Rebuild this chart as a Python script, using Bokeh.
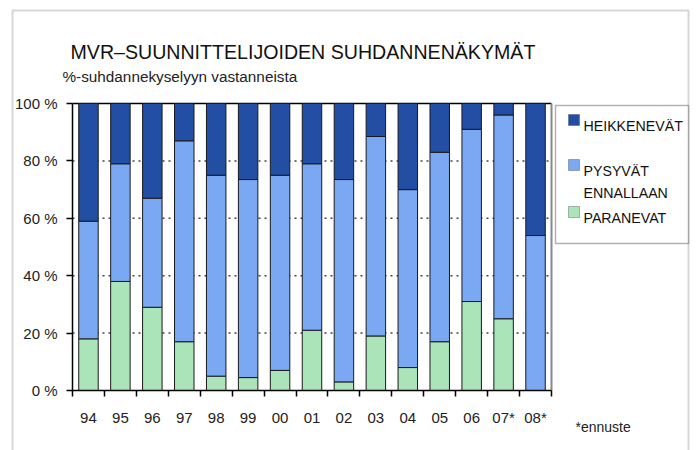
from bokeh.plotting import figure
from bokeh.models import (Range1d, FixedTicker, Label, BoxAnnotation,
                          ColumnDataSource)
from bokeh.embed import file_html
from bokeh.resources import INLINE

years = ["94", "95", "96", "97", "98", "99", "00", "01", "02", "03",
         "04", "05", "06", "07*", "08*"]
paranevat = [18, 38, 29, 17, 5, 4.5, 7, 21, 3, 19, 8, 17, 31, 25, 0]
pysyvat = [41, 41, 38, 70, 70, 69, 68, 58, 70.5, 69.5, 62, 66, 60, 71, 54]
heikkenevat = [41, 21, 33, 13, 25, 26.5, 25, 21, 26.5, 11.5, 30, 17, 9, 4, 46]
series = ["paranevat", "pysyvat", "heikkenevat"]
labels = ["PARANEVAT", "PYSYVÄT\nENNALLAAN", "HEIKKENEVÄT"]
colors = ["#AAE4B8", "#7AA8F2", "#224EA3"]
y_ticks = [0, 20, 40, 60, 80, 100]
grid_ticks = [20, 40, 60, 80]

FONT = "Liberation Sans"
W, H = 696, 450
# plot-area placement on the canvas (pixels)
PL, PR, PT, PB = 72, 551, 103, 390

n = len(years)
xs = (PR - PL) / n          # px per category
ys = (PB - PT) / 100.0      # px per percent

xpos = [i + 0.5 for i in range(n)]
source = ColumnDataSource(dict(x=xpos, paranevat=paranevat, pysyvat=pysyvat,
                               heikkenevat=heikkenevat))

p = figure(width=W, height=H, output_backend="svg", toolbar_location=None,
           x_range=Range1d(-PL / xs, n + (W - PR) / xs),
           y_range=Range1d(-(H - PB) / ys, 100 + PT / ys),
           min_border=0, min_border_left=0, min_border_right=0,
           min_border_top=0, min_border_bottom=0)
p.outline_line_color = None
p.background_fill_color = "white"
p.border_fill_color = "white"
p.xgrid.visible = False
p.ygrid.visible = False

# dotted gridlines, top line and right border of plot area
p.segment(x0=[0] * len(grid_ticks), x1=[n] * len(grid_ticks), y0=grid_ticks,
          y1=grid_ticks, line_color="#444444", line_dash="2 4", line_width=1.5)
p.segment(x0=[0], x1=[n], y0=[100], y1=[100], line_color="black", line_width=1.5)
p.segment(x0=[n], x1=[n], y0=[0], y1=[100], line_color="#888888", line_width=2)

p.vbar_stack(series, x="x", width=0.61, source=source, fill_color=colors,
             line_color="#1a1a1a", line_width=1)

# y axis
yax = p.yaxis[0]
yax.fixed_location = 0
yax.bounds = (0, 100)
yax.ticker = FixedTicker(ticks=y_ticks, minor_ticks=[])
yax.major_label_overrides = {t: f"{t} %" for t in y_ticks}
yax.axis_line_color = "black"
yax.axis_line_width = 1.5
yax.major_tick_out = 6
yax.major_tick_in = 0
yax.major_tick_line_color = "black"
yax.major_tick_line_width = 1.5
yax.major_label_standoff = 9
yax.major_label_text_font = FONT
yax.major_label_text_font_size = "15px"
yax.major_label_text_color = "#222222"

# x axis: labels centred under bars, ticks at category boundaries
xax = p.xaxis[0]
xax.fixed_location = 0
xax.bounds = (0, n)
xax.ticker = FixedTicker(ticks=xpos, minor_ticks=list(range(n + 1)))
xax.major_label_overrides = {x: y for x, y in zip(xpos, years)}
xax.axis_line_color = "black"
xax.axis_line_width = 1.5
xax.major_tick_out = 0
xax.major_tick_in = 0
xax.minor_tick_out = 6
xax.minor_tick_in = 0
xax.minor_tick_line_color = "black"
xax.minor_tick_line_width = 1.5
xax.major_label_standoff = 12
xax.major_label_text_font = FONT
xax.major_label_text_font_size = "15px"
xax.major_label_text_color = "#222222"

U = "screen"  # frame == canvas, y measured upward from the bottom


def up(y_from_top):
    return H - y_from_top


# outer frame
p.add_layout(BoxAnnotation(left=12, right=688, top=up(10), bottom=up(470),
                           left_units=U, right_units=U,
                           top_units=U, bottom_units=U,
                           fill_color=None, line_color="#777777", line_width=2))

# titles
p.add_layout(Label(x=70, y=up(51), x_units=U, y_units=U,
                   text="MVR–SUUNNITTELIJOIDEN SUHDANNENÄKYMÄT",
                   text_font=FONT, text_font_size="19.6px",
                   text_color="#111111", text_baseline="alphabetic"))
p.add_layout(Label(x=62, y=up(76), x_units=U, y_units=U,
                   text="%-suhdannekyselyyn vastanneista",
                   text_font=FONT, text_font_size="15.3px",
                   text_color="#222222", text_baseline="alphabetic"))
p.add_layout(Label(x=575, y=up(426), x_units=U, y_units=U,
                   text="*ennuste", text_font=FONT, text_font_size="14px",
                   text_color="#222222", text_baseline="alphabetic"))

# legend box
p.add_layout(BoxAnnotation(left=555, right=688, top=up(105), bottom=up(243),
                           left_units=U, right_units=U,
                           top_units=U, bottom_units=U,
                           fill_color="white", fill_alpha=1,
                           line_color="black", line_width=1.5))
leg_base = [217, 170, 125]   # baseline of first text line per entry
for lab, col, by in zip(labels, colors, leg_base):
    p.add_layout(BoxAnnotation(left=568, right=579, top=up(by - 11), bottom=up(by),
                               left_units=U, right_units=U,
                               top_units=U, bottom_units=U,
                               fill_color=col, fill_alpha=1, line_color="#222222",
                               line_width=1))
    for k, part in enumerate(lab.split("\n")):
        p.add_layout(Label(x=583, y=up(by + 22 * k), x_units=U,
                           y_units=U, text=part, text_font=FONT,
                           text_font_size="14.2px", text_color="#111111",
                           text_baseline="alphabetic"))

open("out.html", "w").write(file_html(p, INLINE))
